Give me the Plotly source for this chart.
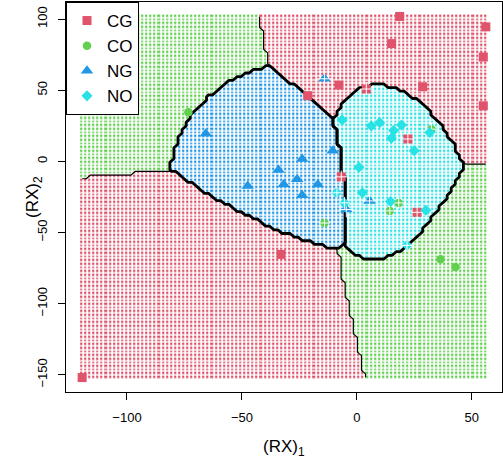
import numpy as np
import plotly.graph_objects as go

# ---------------- data ----------------
classes = ["CG", "CO", "NG", "NO"]
colors = ["#DF536B", "#61D04F", "#2297E6", "#28E2E5"]

cg_x = [18.6, 15.1, 56.1, 55.0, 55.0, 28.6, -7.8, -21.4, 4.1, 22.2, 26.2, -6.8, -119.5, -33.0]
cg_y = [101.8, 82.7, 94.5, 73.3, 39.0, 52.4, 53.6, 46.1, 50.8, 15.7, -35.8, -10.9, -151.9, -65.4]

co_x = [-73.3, -14.1, 32.4, 18.2, 14.3, 36.4, 42.9]
co_y = [34.5, -43.3, 22.6, -29.2, -34.8, -68.7, -74.3]

ng_x = [-65.7, -14.1, -10.5, -23.8, -34.1, -26.0, -31.8, -47.5, -17.0, -23.8, -4.6, 5.5]
ng_y = [19.3, 58.0, 7.5, 1.6, -6.1, -12.5, -16.2, -17.4, -16.2, -23.8, -33.9, -27.8]

no_x = [-6.4, 6.3, 9.9, 19.4, 16.0, 15.0, 31.7, 24.9, 0.9, 2.4, -8.7, 14.6, 30.0, -5.4, 21.8]
no_y = [29.1, 24.9, 27.2, 25.6, 21.6, 16.2, 20.2, 7.5, -4.2, -22.1, -22.1, -28.2, -34.3, -29.2, -59.0]

xticks = [-100, -50, 0, 50]
yticks = [-150, -100, -50, 0, 50, 100]

# ---------------- QDA fit (like MASS::qda) ----------------
groups = [(np.array(cg_x), np.array(cg_y)), (np.array(co_x), np.array(co_y)),
          (np.array(ng_x), np.array(ng_y)), (np.array(no_x), np.array(no_y))]
N = sum(len(g[0]) for g in groups)
params = []
for gx, gy in groups:
    P = np.column_stack([gx, gy])
    mu = P.mean(axis=0)
    S = np.cov(P.T)
    params.append((mu, np.linalg.inv(S), np.log(np.linalg.det(S)), np.log(len(gx) / N)))


def predict(P):
    sc = []
    for mu, Si, ld, lp in params:
        d = P - mu
        sc.append(-0.5 * ld - 0.5 * np.einsum("ij,jk,ik->i", d, Si, d) + lp)
    return np.argmax(np.array(sc), axis=0)


allx = np.concatenate([g[0] for g in groups])
ally = np.concatenate([g[1] for g in groups])
prec = 100
gxs = np.linspace(allx.min(), allx.max(), prec)
gys = np.linspace(ally.min(), ally.max(), prec)
GX, GY = np.meshgrid(gxs, gys)
Z = predict(np.column_stack([GX.ravel(), GY.ravel()])).reshape(GX.shape)

fig = go.Figure()

cs = [[0, colors[0]], [0.25, colors[0]], [0.25, colors[1]], [0.5, colors[1]],
      [0.5, colors[2]], [0.75, colors[2]], [0.75, colors[3]], [1, colors[3]]]
fig.add_trace(go.Heatmap(x=gxs, y=gys, z=Z, zmin=-0.5, zmax=3.5, colorscale=cs,
                         showscale=False, xgap=1.8, ygap=1.5, hoverinfo="skip"))

# boundaries
for k, w in [(0, 1.2), (2, 2.8), (3, 2.8)]:
    fig.add_trace(go.Contour(x=gxs, y=gys, z=(Z == k).astype(float),
                             contours=dict(start=0.5, end=0.5, size=1, coloring="lines"),
                             colorscale=[[0, "black"], [1, "black"]], showscale=False,
                             line=dict(width=w, smoothing=0), hoverinfo="skip"))

symbols = ["square", "circle", "triangle-up", "diamond"]
sizes = [9, 8.5, 11, 8.5]
for k, (gx, gy) in enumerate(groups):
    pred = predict(np.column_stack([gx, gy]))
    ok = pred == k
    fig.add_trace(go.Scatter(x=gx, y=gy, mode="markers", name=classes[k],
                             marker=dict(symbol=symbols[k], size=sizes[k], color=colors[k],
                                         line=dict(width=0))))
    if (~ok).any():
        fig.add_trace(go.Scatter(x=gx[~ok], y=gy[~ok], mode="markers", showlegend=False,
                                 hoverinfo="skip",
                                 marker=dict(symbol="cross-thin-open", size=sizes[k],
                                             color="white", line=dict(width=1, color="white"))))

xr = allx.max() - allx.min()
yr = ally.max() - ally.min()
axis_common = dict(showgrid=False, zeroline=False, showline=True, mirror=True, linecolor="black",
                   linewidth=1, ticks="outside", ticklen=7, tickcolor="black",
                   tickfont=dict(family="Liberation Sans, Arial", size=13, color="black"))
fig.update_layout(
    width=503, height=458,
    margin=dict(l=66, r=1, t=2, b=66),
    paper_bgcolor="white", plot_bgcolor="white",
    xaxis=dict(range=[allx.min() - 0.04 * xr, allx.max() + 0.04 * xr], tickvals=xticks,
               ticktext=["\u2212100", "\u221250", "0", "50"], ticklabelstandoff=6, **axis_common),
    yaxis=dict(range=[ally.min() - 0.04 * yr, ally.max() + 0.04 * yr], tickvals=yticks,
               ticktext=["\u2212150", "\u2212100", "\u221250", "0", "50", "100"], tickangle=-90,
               ticklabelstandoff=6, **axis_common),
    legend=dict(x=0, y=1, xanchor="left", yanchor="top", bgcolor="white", bordercolor="black",
                borderwidth=1, font=dict(family="Liberation Sans, Arial", size=17, color="black"),
                itemsizing="trace", tracegroupgap=0),
    font=dict(family="Liberation Sans, Arial", color="black"),
    annotations=[
        dict(text="(RX)<sub>1</sub>", xref="paper", yref="paper", x=0.5, y=0, yshift=-56,
             xanchor="center", yanchor="middle", showarrow=False,
             font=dict(size=17, family="Liberation Sans, Arial", color="black")),
        dict(text="(RX)<sub>2</sub>", xref="paper", yref="paper", x=0, xshift=-32, y=0.5,
             xanchor="center", yanchor="middle", textangle=-90, showarrow=False,
             font=dict(size=17, family="Liberation Sans, Arial", color="black")),
    ],
)

fig.write_html("out.html")
